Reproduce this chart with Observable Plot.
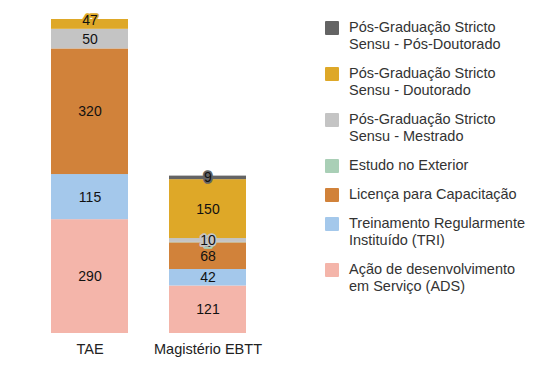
<!DOCTYPE html>
<html>
<head>
<meta charset="utf-8">
<script src="https://cdn.jsdelivr.net/npm/d3@7"></script>
<script src="https://cdn.jsdelivr.net/npm/@observablehq/plot@0.6"></script>
<style>
  html, body { margin: 0; padding: 0; background: #fff; }
  #wrap { position: relative; width: 550px; height: 374px; font-family: "Liberation Sans", Arial, sans-serif; }
  #legend { position: absolute; left: 325px; top: 19px; font-size: 14.5px; line-height: 17px; color: #333; }
  .item { display: flex; align-items: flex-start; margin-bottom: 12px; }
  .sw { width: 14px; height: 14px; margin-top: 1.5px; margin-right: 10px; flex: none; border-radius: 1px; }
  .lb { white-space: pre-line; }
</style>
</head>
<body>
<div id="wrap"><div id="chart"></div><div id="legend"></div></div>
<script>
// Categories (x)
const categories = ["TAE", "Magistério EBTT"];
// Series, bottom of the stack to top
const series = [
  "Ação de desenvolvimento\nem Serviço (ADS)",
  "Treinamento Regularmente\nInstituído (TRI)",
  "Licença para Capacitação",
  "Estudo no Exterior",
  "Pós-Graduação Stricto\nSensu - Mestrado",
  "Pós-Graduação Stricto\nSensu - Doutorado",
  "Pós-Graduação Stricto\nSensu - Pós-Doutorado"
];
const colors = ["#f4b5aa", "#a4c8eb", "#d1823a", "#a9cfb6", "#c4c4c4", "#dea828", "#646464"];
// Values per category, in series order
const taeValues = [290, 115, 320, 0, 50, 47, 0];
const ebttValues = [121, 42, 68, 1, 10, 150, 9];

const table = [];
[taeValues, ebttValues].forEach((vals, ci) => {
  vals.forEach((v, si) => table.push({category: categories[ci], series: series[si], value: v}));
});

const chart = Plot.plot({
  width: 550,
  height: 374,
  marginTop: 19,
  marginBottom: 41,
  marginLeft: 27,
  marginRight: 279,
  style: {fontFamily: "Liberation Sans, Arial, sans-serif", fontSize: "14.5px", color: "#222", background: "#fff"},
  x: {domain: categories, paddingInner: 0.345, paddingOuter: 0.2, label: null, tickSize: 0, tickPadding: 10},
  y: {domain: [0, 800], clamp: true, axis: null},
  color: {domain: series, range: colors},
  marks: [
    Plot.barY(table, Plot.stackY({x: "category", y: "value", z: "series", fill: "series"})),
    Plot.text(table.filter(d => d.value > 0), Plot.stackY({
      x: "category", y: "value", z: "series", text: d => String(d.value),
      stroke: "series", strokeWidth: 3.5, paintOrder: "stroke", fill: "#111", fontSize: 14
    }))
  ]
});
document.getElementById("chart").appendChild(chart);

// Legend: top to bottom is reverse of stacking order
const legend = d3.select("#legend");
series.map((s, i) => ({s, c: colors[i]})).reverse().forEach(({s, c}) => {
  const it = legend.append("div").attr("class", "item");
  it.append("div").attr("class", "sw").style("background", c);
  it.append("div").attr("class", "lb").text(s);
});
</script>
</body>
</html>
